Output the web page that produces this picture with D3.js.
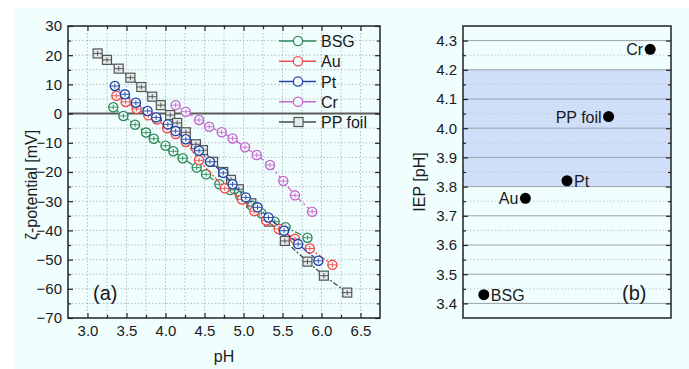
<!DOCTYPE html>
<html><head><meta charset="utf-8">
<script src="https://cdn.jsdelivr.net/npm/d3@7"></script>
<style>
body{margin:0;background:#fff}
svg{display:block}
text{font-family:"Liberation Sans",Arial,sans-serif;fill:#1a1a1a}
</style>
</head><body>
<svg id="c" width="689" height="369"></svg>
<script>
// ---- Panel (a) data ----
const bsgPH = [3.33,3.46,3.61,3.75,3.85,4.00,4.10,4.22,4.40,4.52,4.69,4.83,4.96,5.11,5.23,5.40,5.54,5.82];
const bsgZ  = [2.2,-0.8,-3.8,-6.5,-8.6,-11.0,-12.9,-15.3,-18.5,-20.8,-24.2,-26.2,-28.2,-31.6,-34.1,-37.0,-38.9,-42.5];
const auPH = [3.37,3.49,3.63,3.78,3.89,4.02,4.13,4.26,4.43,4.76,4.98,5.14,5.29,5.45,5.66,5.85,6.14];
const auZ  = [6.1,4.0,1.6,-0.6,-2.0,-5.0,-7.0,-9.7,-16.0,-25.6,-29.4,-33.4,-36.6,-39.5,-42.9,-46.2,-51.8];
const ptPH = [3.35,3.48,3.62,3.77,3.88,4.03,4.13,4.26,4.43,4.57,4.74,4.86,5.03,5.18,5.32,5.52,5.70,5.96];
const ptZ  = [9.45,6.6,3.7,0.9,-1.3,-3.7,-6.0,-8.8,-12.7,-16.5,-20.3,-24.2,-28.7,-32.1,-35.6,-40.1,-44.7,-50.4];
const crPH = [4.13,4.26,4.43,4.56,4.72,4.86,5.02,5.17,5.34,5.51,5.66,5.88];
const crZ  = [2.9,0.65,-2.2,-4.5,-6.4,-8.5,-11.5,-14.2,-17.6,-23.1,-28.0,-33.6];
const ppPH = [3.13,3.25,3.40,3.55,3.69,3.83,3.94,4.06,4.15,4.26,4.39,4.48,4.61,4.74,4.84,4.94,5.10,5.33,5.53,5.82,6.03,6.33];
const ppZ  = [20.6,18.4,15.4,12.3,9.1,5.8,2.9,-0.5,-3.2,-6.4,-10.5,-12.5,-16.5,-20.0,-22.7,-25.9,-30.7,-37.0,-43.6,-50.7,-55.5,-61.3];
const seriesNames = ["BSG","Au","Pt","Cr","PP foil"];
const xTicksA = [3.0,3.5,4.0,4.5,5.0,5.5,6.0,6.5];
const yTicksA = [30,20,10,0,-10,-20,-30,-40,-50,-60,-70];

// ---- Panel (b) data ----
const iepNames = ["BSG","Au","Pt","PP foil","Cr"];
const iepValues = [3.43,3.76,3.82,4.04,4.27];
const yTicksB = [3.4,3.5,3.6,3.7,3.8,3.9,4.0,4.1,4.2,4.3];
const bandRange = [3.8,4.2];

// ---- styles ----
const BG = "#f0fefe";
const colors = {"BSG":"#2b8a57","Au":"#f24a4a","Pt":"#2541a3","Cr":"#c466cc","PP foil":"#4a4a4a"};
const dashes = {"BSG":"7,2,2,2","Au":"7,2,2,2","Pt":"7,2,2,2","Cr":"6,3,2,3","PP foil":"5,2,2,2"};
const labelSide = ["right","left","right","left","left"];

const svg = d3.select("#c");
svg.append("rect").attr("x",15).attr("y",8).attr("width",674).attr("height",361).attr("fill",BG);

// ================= Panel (a) =================
const A = {l:68, r:380, t:26, b:318};
const xA = d3.scaleLinear().domain([2.75,6.75]).range([A.l,A.r]);
const yA = d3.scaleLinear().domain([-70,30]).range([A.b,A.t]);
const gA = svg.append("g");

// grid
const vGrid = d3.range(3.0,6.51,0.25);
const hGrid = d3.range(-65,26,5);
gA.selectAll(".vg").data(vGrid).join("line")
  .attr("x1",d=>xA(d)).attr("x2",d=>xA(d)).attr("y1",A.t).attr("y2",A.b)
  .attr("stroke","#b4bcc4").attr("stroke-width",1).attr("stroke-dasharray","1.5,2");
gA.selectAll(".hg").data(hGrid).join("line")
  .attr("y1",d=>yA(d)).attr("y2",d=>yA(d)).attr("x1",A.l).attr("x2",A.r)
  .attr("stroke","#b4bcc4").attr("stroke-width",1).attr("stroke-dasharray","1.5,2");

// zero line
gA.append("line").attr("x1",A.l).attr("x2",A.r).attr("y1",yA(0)).attr("y2",yA(0))
  .attr("stroke","#5a5a5a").attr("stroke-width",2);

// axes
function styleAxis(g, fs){
  g.selectAll(".domain").remove();
  g.selectAll(".tick line").attr("stroke","#222").attr("stroke-width",1.2);
  g.selectAll("text").attr("font-size",fs).attr("fill","#1a1a1a")
    .attr("font-family",'"Liberation Sans",Arial,sans-serif');
}
const minorX = d3.range(3.25,6.6,0.5);
const minorY = d3.range(-65,26,10);
styleAxis(gA.append("g").attr("transform",`translate(0,${A.b})`)
  .call(d3.axisBottom(xA).tickValues(xTicksA).tickFormat(d3.format(".1f")).tickSize(-5).tickPadding(7)),15);
styleAxis(gA.append("g").attr("transform",`translate(0,${A.b})`)
  .call(d3.axisBottom(xA).tickValues(minorX).tickFormat("").tickSize(-3)),15);
styleAxis(gA.append("g").attr("transform",`translate(0,${A.t})`)
  .call(d3.axisTop(xA).tickValues(xTicksA).tickFormat("").tickSize(-5)),15);
styleAxis(gA.append("g").attr("transform",`translate(0,${A.t})`)
  .call(d3.axisTop(xA).tickValues(minorX).tickFormat("").tickSize(-3)),15);
styleAxis(gA.append("g").attr("transform",`translate(${A.l},0)`)
  .call(d3.axisLeft(yA).tickValues(yTicksA).tickSize(-5).tickPadding(6)),15);
styleAxis(gA.append("g").attr("transform",`translate(${A.l},0)`)
  .call(d3.axisLeft(yA).tickValues(minorY).tickFormat("").tickSize(-3)),15);
styleAxis(gA.append("g").attr("transform",`translate(${A.r},0)`)
  .call(d3.axisRight(yA).tickValues(yTicksA).tickFormat("").tickSize(-5)),15);
styleAxis(gA.append("g").attr("transform",`translate(${A.r},0)`)
  .call(d3.axisRight(yA).tickValues(minorY).tickFormat("").tickSize(-3)),15);

// series
const seriesData = [
  {name:"BSG", x:bsgPH, y:bsgZ},
  {name:"Au", x:auPH, y:auZ},
  {name:"Pt", x:ptPH, y:ptZ},
  {name:"Cr", x:crPH, y:crZ},
  {name:"PP foil", x:ppPH, y:ppZ}
];
const line = d3.line().x(d=>xA(d[0])).y(d=>yA(d[1]));
const drawOrder = ["PP foil","Cr","BSG","Au","Pt"];
drawOrder.forEach(nm=>{
  const s = seriesData.find(q=>q.name===nm);
  const pts = s.x.map((v,i)=>[v,s.y[i]]);
  const c = colors[nm];
  gA.append("path").datum(pts).attr("d",line).attr("fill","none")
    .attr("stroke",c).attr("stroke-width",1.3).attr("stroke-dasharray",dashes[nm]);
  const mk = gA.append("g").selectAll("g").data(pts).join("g")
    .attr("transform",d=>`translate(${xA(d[0])},${yA(d[1])})`);
  if(nm==="PP foil"){
    mk.append("rect").attr("x",-4.5).attr("y",-4.5).attr("width",9).attr("height",9)
      .attr("fill","#e4eaea").attr("stroke","#555").attr("stroke-width",1.2);
  } else {
    mk.append("circle").attr("r",4.6).attr("fill",BG).attr("stroke",c).attr("stroke-width",1.3);
  }
  mk.append("line").attr("x1",-4.5).attr("x2",4.5).attr("y1",0).attr("y2",0).attr("stroke",c).attr("stroke-width",0.9);
  mk.append("line").attr("x1",0).attr("x2",0).attr("y1",-2.5).attr("y2",2.5).attr("stroke",c).attr("stroke-width",0.9);
});

// frame
gA.append("rect").attr("x",A.l).attr("y",A.t).attr("width",A.r-A.l).attr("height",A.b-A.t)
  .attr("fill","none").attr("stroke","#222").attr("stroke-width",1.5);

// legend
const legY = d3.scalePoint().domain(seriesNames).range([41,122]);
const leg = gA.append("g");
seriesNames.forEach(nm=>{
  const y = legY(nm), c = colors[nm];
  leg.append("line").attr("x1",279).attr("x2",316).attr("y1",y).attr("y2",y).attr("stroke",c).attr("stroke-width",1.3);
  if(nm==="PP foil"){
    leg.append("rect").attr("x",294).attr("y",y-4.5).attr("width",9).attr("height",9)
      .attr("fill","#e4eaea").attr("stroke","#555").attr("stroke-width",1.2);
  } else {
    leg.append("circle").attr("cx",298).attr("cy",y).attr("r",4.6).attr("fill",BG).attr("stroke",c).attr("stroke-width",1.3);
  }
  leg.append("text").attr("x",321).attr("y",y+6).attr("font-size",16).text(nm);
});

gA.append("text").attr("x",93).attr("y",300).attr("font-size",20).text("(a)");
gA.append("text").attr("x",(A.l+A.r)/2).attr("y",362).attr("text-anchor","middle").attr("font-size",16).text("pH");
gA.append("text").attr("transform","translate(37,185) rotate(-90)").attr("text-anchor","middle")
  .attr("font-size",16).text("ζ-potential [mV]");

// ================= Panel (b) =================
const B = {l:463, r:671, t:26, b:318};
const xB = d3.scalePoint().domain(iepNames).range([B.l,B.r]).padding(0.5);
const yB = d3.scaleLinear().domain([3.35,4.35]).range([B.b,B.t]);
const gB = svg.append("g");

gB.append("rect").attr("x",B.l).attr("width",B.r-B.l)
  .attr("y",yB(bandRange[1])).attr("height",yB(bandRange[0])-yB(bandRange[1]))
  .attr("fill","#cfdff9");

const minorB = d3.range(3.45,4.3,0.1);
gB.selectAll(".dg").data(minorB).join("line")
  .attr("x1",B.l).attr("x2",B.r).attr("y1",d=>yB(d)).attr("y2",d=>yB(d))
  .attr("stroke","#c0c8d2").attr("stroke-width",1).attr("stroke-dasharray","1.5,2");
gB.selectAll(".sg").data(yTicksB).join("line")
  .attr("x1",B.l).attr("x2",B.r).attr("y1",d=>yB(d)).attr("y2",d=>yB(d))
  .attr("stroke","#98a2aa").attr("stroke-width",1);

styleAxis(gB.append("g").attr("transform",`translate(${B.l},0)`)
  .call(d3.axisLeft(yB).tickValues(yTicksB).tickFormat(d3.format(".1f")).tickSize(-5).tickPadding(6)),15);
styleAxis(gB.append("g").attr("transform",`translate(${B.l},0)`)
  .call(d3.axisLeft(yB).tickValues(minorB).tickFormat("").tickSize(-3)),15);
styleAxis(gB.append("g").attr("transform",`translate(${B.r},0)`)
  .call(d3.axisRight(yB).tickValues(yTicksB).tickFormat("").tickSize(-5)),15);
styleAxis(gB.append("g").attr("transform",`translate(${B.r},0)`)
  .call(d3.axisRight(yB).tickValues(minorB).tickFormat("").tickSize(-3)),15);

gB.append("rect").attr("x",B.l).attr("y",B.t).attr("width",B.r-B.l).attr("height",B.b-B.t)
  .attr("fill","none").attr("stroke","#222").attr("stroke-width",1.5);

iepNames.forEach((nm,i)=>{
  const cx = xB(nm), cy = yB(iepValues[i]);
  gB.append("circle").attr("cx",cx).attr("cy",cy).attr("r",5.5).attr("fill","#000");
  const right = labelSide[i]==="right";
  gB.append("text").attr("x",right?cx+7:cx-7).attr("y",cy+6)
    .attr("text-anchor",right?"start":"end").attr("font-size",16).text(nm);
});

gB.append("text").attr("x",622).attr("y",300).attr("font-size",20).text("(b)");
gB.append("text").attr("transform","translate(425,182) rotate(-90)").attr("text-anchor","middle")
  .attr("font-size",16).text("IEP [pH]");
</script>
</body></html>
